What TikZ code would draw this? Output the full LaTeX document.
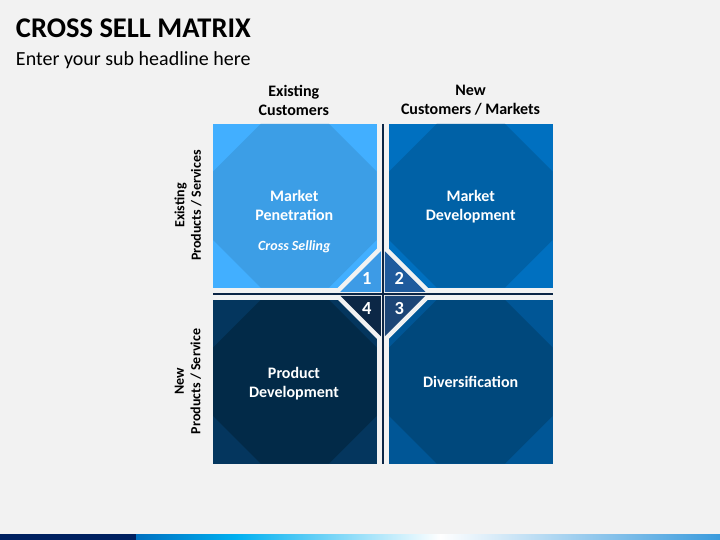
\documentclass[tikz,border=0pt]{standalone}
\usepackage{fontspec}
\setmainfont{Carlito}
\definecolor{bgc}{HTML}{F2F2F2}
\definecolor{tlout}{HTML}{42AFFF}
\definecolor{tloct}{HTML}{3C9EE6}
\definecolor{trout}{HTML}{0070C0}
\definecolor{troct}{HTML}{0061A6}
\definecolor{blout}{HTML}{04365E}
\definecolor{bloct}{HTML}{022A48}
\definecolor{brout}{HTML}{005696}
\definecolor{broct}{HTML}{00487C}
\definecolor{triA}{HTML}{3D9BE6}
\definecolor{triB}{HTML}{1F5B9D}
\definecolor{triC}{HTML}{1C4576}
\definecolor{triD}{HTML}{0C2746}
\definecolor{crossc}{HTML}{0B2545}
\definecolor{barnavy}{HTML}{002060}
\definecolor{barblue}{HTML}{0070C0}
\definecolor{barcyan}{HTML}{00B0F0}
\definecolor{barend}{HTML}{3A9BDD}
\newcommand\OctSquare[4]{%
  \begin{scope}[shift={(#1,#2)}]
    \fill[#3] (0,0) rectangle (163.5,163.5);
    \fill[#4] (47.5,0) -- (116,0) -- (163.5,47.5) -- (163.5,116) -- (116,163.5)
      -- (47.5,163.5) -- (0,116) -- (0,47.5) -- cycle;
  \end{scope}}
\tikzset{
  plain/.style={inner sep=0pt, outer sep=0pt},
  hdr/.style={plain, align=center, font=\bfseries\fontsize{16}{18.5}\selectfont, text=black},
  sidehdr/.style={plain, align=center, rotate=90, font=\bfseries\fontsize{14}{16.5}\selectfont, text=black},
  boxtxt/.style={plain, align=center, text=white, font=\bfseries\fontsize{16}{19}\selectfont},
  numtxt/.style={plain, anchor=base, text=white, font=\bfseries\fontsize{18.5}{20}\selectfont},
  crossline/.style={draw=crossc, line width=2pt}
}
\begin{document}
\begin{tikzpicture}[x=1pt,y=-1pt]
\fill[bgc] (0,0) rectangle (720,540);
\useasboundingbox (0,0) rectangle (720,540);

% title
\node[plain, anchor=base west, font=\bfseries\fontsize{28.5}{32}\selectfont] (title) at (16,37.5) {CROSS SELL MATRIX};
\node[plain, anchor=base west, font=\fontsize{20}{24}\selectfont] (subtitle) at (16,65.5) {Enter your sub headline here};

% quadrants
\OctSquare{213}{124}{tlout}{tloct}
\OctSquare{389}{124}{trout}{troct}
\OctSquare{213}{300}{blout}{bloct}
\OctSquare{389}{300}{brout}{broct}

% centre diamond
\coordinate (C) at (382.75,293.75);
\begin{scope}[shift={(C)}]
  \fill[bgc] (-51,0) -- (0,-51) -- (51,0) -- (0,51) -- cycle;
  \fill[triA] (-2,-2) -- (-2,-42.5) -- (-42.5,-2) -- cycle;
  \fill[triB] (2,-2) -- (2,-42.5) -- (42.5,-2) -- cycle;
  \fill[triC] (2,2) -- (2,42.5) -- (42.5,2) -- cycle;
  \fill[triD] (-2,2) -- (-2,42.5) -- (-42.5,2) -- cycle;
\end{scope}

% cross lines
\coordinate (vtop) at (382.75,124);
\coordinate (vbot) at (382.75,463.5);
\coordinate (hleft) at (213,293.75);
\coordinate (hright) at (552.5,293.75);
\draw[crossline] (vtop) -- (vbot);
\draw[crossline] (hleft) -- (hright);

% headers
\node[hdr] (hexist) at (293.8,100.3) {Existing\\Customers};
\node[hdr] (hnew) at (470.5,100.3) {New\\Customers / Markets};
\node[sidehdr] (sexist) at (188,205.5) {Existing\\Products / Services};
\node[sidehdr] (snew) at (188,381.5) {New\\Products / Service};

% box texts
\node[boxtxt] (mp) at (294.3,205.3) {Market\\Penetration};
\node[plain, anchor=base, text=white, font=\bfseries\itshape\fontsize{14}{16}\selectfont] (cs) at (294.3,250) {Cross Selling};
\node[boxtxt] (md) at (470.7,206.8) {Market\\Development};
\node[boxtxt] (pd) at (294,383.6) {Product\\Development};
\node[boxtxt, anchor=base] (dv) at (470.7,387.7) {Diversification};

% numbers
\node[numtxt] (n1) at (366.7,284.3) {1};
\node[numtxt] (n2) at (399.3,284.3) {2};
\node[numtxt] (n3) at (399.3,314.3) {3};
\node[numtxt] (n4) at (366.7,314.3) {4};

% bottom bar
\fill[barnavy] (0,534) rectangle (136.5,540);
\shade[left color=barblue, right color=barcyan] (136,534) rectangle (236.5,540);
\shade[left color=barcyan, right color=white] (236,534) rectangle (440.5,540);
\shade[left color=white, right color=barend] (440,534) rectangle (720,540);
\end{tikzpicture}
\end{document}
